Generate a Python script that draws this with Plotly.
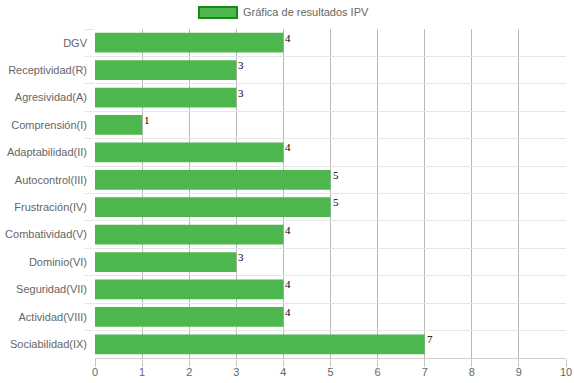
import plotly.graph_objects as go

categories = ["DGV", "Receptividad(R)", "Agresividad(A)", "Comprensión(I)",
              "Adaptabilidad(II)", "Autocontrol(III)", "Frustración(IV)",
              "Combatividad(V)", "Dominio(VI)", "Seguridad(VII)",
              "Actividad(VIII)", "Sociabilidad(IX)"]
values = [4, 3, 3, 1, 4, 5, 5, 4, 3, 4, 4, 7]
x_ticks = list(range(0, 11))
series_name = "Gráfica de resultados IPV"

BAR = "#4db74e"
BORDER = "#168a16"
FONT = "Arial"
FS = 11

fig = go.Figure()
fig.add_trace(go.Bar(
    x=values, y=categories, orientation="h",
    marker=dict(color=BAR, line=dict(width=0)),
    name=series_name, showlegend=False, hoverinfo="x+y",
))

annotations = [
    dict(x=v, y=c, xref="x", yref="y", text=str(v), showarrow=False,
         xanchor="left", yanchor="top", xshift=0, yshift=13,
         font=dict(family="Times New Roman", size=11, color="#000"))
    for c, v in zip(categories, values)
]

# custom legend (box + label) in paper coordinates
plot_l, plot_r, plot_t, plot_b = 95, 566, 29, 358
W, H = plot_r - plot_l, plot_b - plot_t
def px(x):
    return (x - plot_l) / W
def py(y):
    return 1 + (plot_t - y) / H

shapes = [dict(type="rect", xref="paper", yref="paper",
               x0=px(199), x1=px(237), y0=py(18), y1=py(7),
               fillcolor=BAR, line=dict(color=BORDER, width=2))]
annotations.append(dict(x=px(241), y=py(12.5), xref="paper", yref="paper",
                        text=series_name, showarrow=False, xanchor="left",
                        yanchor="middle",
                        font=dict(family=FONT, size=FS, color="#666")))

fig.update_layout(
    width=574, height=383,
    margin=dict(l=plot_l, r=574 - plot_r, t=plot_t, b=383 - plot_b),
    paper_bgcolor="white", plot_bgcolor="white",
    bargap=0.28,
    font=dict(family=FONT, size=FS, color="#666"),
    shapes=shapes, annotations=annotations,
    xaxis=dict(range=[0, 10], tickvals=x_ticks, showgrid=True,
               gridcolor="#b8b8b8", gridwidth=1, zeroline=False,
               showline=True, linecolor="#d0d0d0", ticks="outside",
               ticklen=8, tickcolor="#c8c8c8", automargin=False,
               ticklabelstandoff=-4,
               tickfont=dict(size=FS, color="#666")),
    yaxis=dict(type="category", autorange="reversed", tickson="boundaries",
               showgrid=True, gridcolor="#e6e6e6", gridwidth=1,
               showline=False, ticks="outside", ticklen=10,
               tickcolor="#e6e6e6", zeroline=False, automargin=False,
               ticklabelstandoff=7,
               tickfont=dict(size=FS, color="#666")),
)

fig.write_html("out.html", config={"displayModeBar": False},
               post_script="document.body.style.margin='0';document.body.style.padding='0';")
